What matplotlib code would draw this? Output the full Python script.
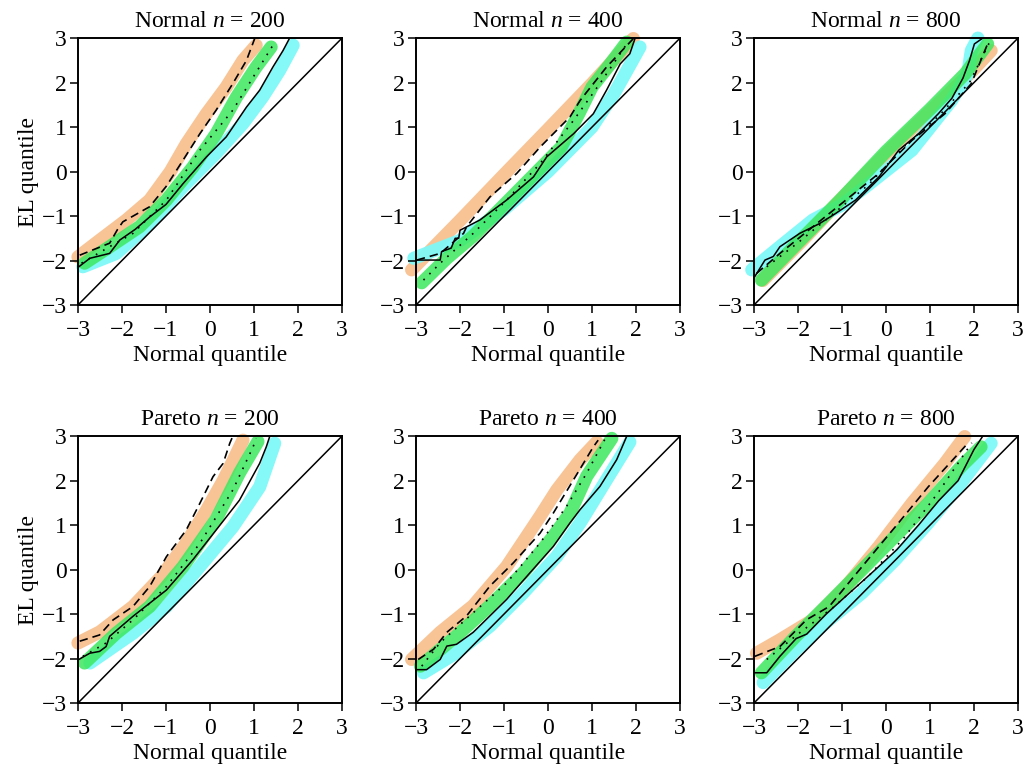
import matplotlib.pyplot as plt
import numpy as np

plt.rcParams['font.family'] = ['Liberation Serif', 'DejaVu Serif']
plt.rcParams['mathtext.fontset'] = 'custom'
plt.rcParams['mathtext.rm'] = 'Liberation Serif'
plt.rcParams['mathtext.it'] = 'Liberation Serif:italic'

titles = ['Normal $n$ = 200', 'Normal $n$ = 400', 'Normal $n$ = 800',
          'Pareto $n$ = 200', 'Pareto $n$ = 400', 'Pareto $n$ = 800']
ticks = [-3, -2, -1, 0, 1, 2, 3]

# (normal quantile, EL quantile) points
# --- Normal n = 200
nrm200_orange = [(-3.0, -1.92), (-2.5, -1.54), (-1.9, -1.09), (-1.37, -0.64), (-0.9, 0.0),
                 (-0.54, 0.62), (-0.08, 1.3), (0.37, 1.9), (0.75, 2.5), (1.05, 2.84)]
nrm200_green = [(-2.85, -2.06), (-2.28, -1.69), (-1.6, -1.24), (-0.99, -0.64), (-0.39, 0.1),
                (0.14, 0.85), (0.6, 1.67), (1.05, 2.35), (1.39, 2.8)]
nrm200_cyan = [(-2.89, -2.14), (-2.13, -1.84), (-1.37, -1.17), (-0.61, -0.34), (0.14, 0.41),
               (0.75, 1.08), (1.2, 1.68), (1.58, 2.27), (1.89, 2.84)]
nrm200_dash = [(-2.96, -1.88), (-2.28, -1.61), (-2.1, -1.3), (-1.98, -1.13), (-1.37, -0.79),
               (-1.0, -0.34), (-0.61, 0.26), (-0.23, 0.85), (0.14, 1.38), (0.52, 1.98),
               (0.83, 2.5), (1.02, 3.0)]
nrm200_dot = [(-2.92, -2.06), (-2.3, -1.7), (-1.75, -1.39), (-0.99, -0.64), (-0.23, 0.48),
              (0.52, 1.38), (0.98, 2.12), (1.43, 2.84)]
nrm200_solid = [(-2.98, -2.14), (-2.73, -1.95), (-2.28, -1.84), (-2.05, -1.54), (-1.7, -1.3),
                (-1.37, -1.02), (-1.0, -0.74), (-0.61, -0.27), (-0.08, 0.33), (0.37, 0.78),
                (0.83, 1.45), (1.13, 1.83), (1.43, 2.35), (1.66, 2.72), (1.81, 3.0)]
# --- Normal n = 400
nrm400_orange = [(-3.1, -2.21), (-2.0, -1.1), (-1.0, -0.07), (0.0, 0.95), (1.0, 1.98), (1.94, 2.99)]
nrm400_green = [(-2.87, -2.5), (-2.3, -1.95), (-1.7, -1.45), (-1.0, -0.75), (-0.3, -0.05),
                (0.3, 0.55), (0.7, 1.3), (1.0, 1.9), (1.4, 2.4), (1.79, 2.91)]
nrm400_cyan = [(-3.05, -1.95), (-2.0, -1.55), (-1.0, -0.85), (0.0, 0.0), (1.0, 1.0),
               (1.5, 1.75), (2.09, 2.8)]
nrm400_dash = [(-2.98, -1.99), (-2.45, -1.84), (-1.92, -1.39), (-1.85, -1.24), (-1.32, -0.57),
               (-0.71, -0.04), (-0.18, 0.55), (0.5, 1.23), (0.73, 1.6), (1.33, 2.35), (1.94, 2.99)]
nrm400_dot = [(-2.83, -2.44), (-2.45, -2.06), (-1.7, -1.39), (-0.94, -0.64), (-0.18, 0.18),
              (0.58, 1.15), (1.18, 1.98), (1.79, 2.87)]
nrm400_solid = [(-2.98, -1.99), (-2.45, -1.99), (-2.42, -1.8), (-2.2, -1.72), (-2.11, -1.5),
                (-2.03, -1.5), (-2.0, -1.32), (-1.55, -1.09), (-0.94, -0.64), (-0.33, -0.12),
                (-0.03, 0.33), (0.58, 0.85), (1.03, 1.3), (1.33, 1.83), (1.64, 2.42),
                (1.86, 2.65), (1.98, 3.0)]
# --- Normal n = 800
nrm800_orange = [(-2.8, -2.45), (-1.9, -1.55), (-1.0, -0.6), (0.0, 0.4), (1.0, 1.35),
                 (1.9, 2.2), (2.39, 2.72)]
nrm800_green = [(-2.83, -2.44), (-2.0, -1.6), (-1.0, -0.6), (0.0, 0.45), (1.0, 1.4),
                (1.8, 2.2), (2.31, 2.87)]
nrm800_cyan = [(-3.05, -2.21), (-2.41, -1.69), (-1.66, -1.09), (-1.0, -0.75), (-0.46, -0.34),
               (0.59, 0.48), (1.49, 1.6), (1.86, 2.2), (1.94, 2.72), (2.09, 3.0)]
nrm800_dash = [(-2.94, -2.29), (-2.41, -1.84), (-1.66, -1.24), (-0.91, -0.64), (-0.16, -0.04),
               (0.59, 0.7), (1.34, 1.3), (1.94, 1.98), (2.31, 2.87)]
nrm800_dot = [(-2.71, -2.14), (-2.0, -1.6), (-1.2, -0.95), (-0.4, -0.3), (0.4, 0.55),
              (1.2, 1.25), (1.9, 2.0), (2.35, 2.9)]
nrm800_solid = [(-2.98, -2.36), (-2.75, -1.99), (-2.56, -1.91), (-2.41, -1.69), (-1.96, -1.39),
                (-1.51, -1.17), (-1.14, -0.94), (-0.69, -0.64), (-0.16, -0.12), (0.29, 0.48),
                (0.74, 0.85), (1.19, 1.3), (1.5, 1.65), (1.75, 2.1), (1.9, 2.5), (2.01, 2.87),
                (2.2, 3.0)]
# --- Pareto n = 200
par200_orange = [(-3.0, -1.65), (-2.5, -1.4), (-1.75, -0.83), (-1.1, -0.15), (-0.54, 0.6),
                 (-0.1, 1.3), (0.3, 2.0), (0.55, 2.5), (0.75, 2.91)]
par200_green = [(-2.85, -2.1), (-2.13, -1.43), (-1.37, -0.83), (-0.61, 0.07), (0.14, 1.13),
                (0.67, 2.17), (1.09, 2.88)]
par200_cyan = [(-2.73, -2.1), (-1.75, -1.43), (-0.99, -0.83), (-0.23, 0.07), (0.52, 0.96),
               (1.13, 1.86), (1.47, 2.84)]
par200_dash = [(-2.96, -1.61), (-2.51, -1.47), (-2.2, -1.13), (-1.75, -0.83), (-1.37, -0.38),
               (-0.99, 0.29), (-0.54, 0.89), (-0.23, 1.49), (0.07, 2.09), (0.3, 2.39),
               (0.45, 2.84), (0.52, 3.0)]
par200_dot = [(-2.89, -1.95), (-2.36, -1.65), (-1.75, -1.13), (-0.99, -0.38), (-0.23, 0.59),
              (0.52, 1.79), (0.98, 2.76), (1.05, 2.95)]
par200_solid = [(-2.98, -2.02), (-2.73, -1.88), (-2.51, -1.84), (-2.36, -1.73), (-2.28, -1.5),
                (-1.75, -1.05), (-0.99, -0.46), (-0.39, 0.22), (0.14, 0.89), (0.67, 1.56),
                (1.13, 2.39), (1.28, 2.76), (1.36, 3.0)]
# --- Pareto n = 400
par400_orange = [(-3.1, -2.02), (-2.45, -1.41), (-1.7, -0.81), (-0.94, 0.07), (-0.18, 1.2),
                 (0.2, 1.79), (0.73, 2.47), (1.11, 2.87)]
par400_green = [(-2.9, -2.17), (-2.08, -1.49), (-1.32, -0.81), (-0.56, -0.07), (0.12, 0.75),
                (0.5, 1.27), (0.88, 2.1), (1.45, 2.95)]
par400_cyan = [(-2.83, -2.32), (-2.08, -1.87), (-1.32, -1.27), (-0.56, -0.52), (0.2, 0.3),
               (0.73, 1.05), (1.33, 2.02), (1.86, 2.87)]
par400_dash = [(-2.95, -2.02), (-2.6, -1.79), (-2.3, -1.41), (-1.85, -1.04), (-1.32, -0.37),
               (-0.79, 0.15), (-0.18, 0.82), (0.12, 1.27), (0.58, 2.02), (1.03, 2.76), (1.14, 2.91)]
par400_dot = [(-2.87, -2.17), (-2.45, -1.64), (-1.7, -0.97), (-0.94, -0.3), (-0.18, 0.6),
              (0.42, 1.42), (0.88, 2.17), (1.33, 3.0)]
par400_solid = [(-2.98, -2.25), (-2.76, -2.25), (-2.45, -2.02), (-2.3, -1.72), (-2.08, -1.68),
                (-1.7, -1.41), (-1.32, -1.04), (-0.94, -0.67), (-0.48, -0.15), (0.12, 0.52),
                (0.5, 1.05), (0.73, 1.35), (1.18, 1.87), (1.56, 2.47), (1.79, 3.0)]
# --- Pareto n = 800
par800_orange = [(-2.94, -1.88), (-2.41, -1.58), (-1.66, -1.13), (-0.91, -0.38), (-0.16, 0.52),
                 (0.59, 1.49), (1.34, 2.39), (1.79, 2.99)]
par800_green = [(-2.83, -2.32), (-2.04, -1.49), (-1.29, -0.75), (-0.54, 0.0), (0.21, 0.75),
                (0.96, 1.49), (1.71, 2.32), (2.16, 2.76)]
par800_cyan = [(-2.79, -2.54), (-2.04, -1.79), (-1.29, -1.13), (-0.54, -0.52), (0.21, 0.22),
               (0.96, 1.05), (1.71, 1.95), (2.39, 2.84)]
par800_dash = [(-2.98, -1.95), (-2.41, -1.73), (-1.81, -1.13), (-1.29, -0.83), (-0.54, 0.07),
               (0.21, 0.96), (0.96, 1.86), (1.86, 2.84)]
par800_dot = [(-2.71, -2.02), (-2.0, -1.45), (-1.2, -0.85), (-0.4, -0.15), (0.4, 0.7),
              (1.2, 1.75), (1.95, 2.85)]
par800_solid = [(-2.98, -2.32), (-2.71, -2.32), (-2.41, -1.95), (-2.04, -1.55), (-1.8, -1.45),
                (-1.36, -1.0), (-0.8, -0.5), (-0.24, 0.0), (0.25, 0.45), (0.74, 1.0),
                (1.2, 1.55), (1.64, 2.0), (2.0, 2.7), (2.2, 3.0)]

panels = [
    (nrm200_orange, nrm200_green, nrm200_cyan, nrm200_dash, nrm200_dot, nrm200_solid),
    (nrm400_orange, nrm400_green, nrm400_cyan, nrm400_dash, nrm400_dot, nrm400_solid),
    (nrm800_orange, nrm800_green, nrm800_cyan, nrm800_dash, nrm800_dot, nrm800_solid),
    (par200_orange, par200_green, par200_cyan, par200_dash, par200_dot, par200_solid),
    (par400_orange, par400_green, par400_cyan, par400_dash, par400_dot, par400_solid),
    (par800_orange, par800_green, par800_cyan, par800_dash, par800_dot, par800_solid),
]

fig = plt.figure(figsize=(10.30, 7.69), dpi=100)
lefts = [0.0757, 0.4039, 0.732]
bottoms = [0.6034, 0.0858]
w, h = 0.2563, 0.347
fs = 17

for i, (orange, green, cyan, dash, dot, solid) in enumerate(panels):
    ax = fig.add_axes([lefts[i % 3], bottoms[i // 3], w, h])
    band_kw = dict(lw=9.5, solid_capstyle='round', solid_joinstyle='round', clip_on=False)
    for pts, col, a in [(orange, '#f8c496', 1.0), (cyan, '#7ff8f8', 0.95), (green, '#3de85e', 0.85)]:
        p = np.array(pts)
        ax.plot(p[:, 0], p[:, 1], color=col, alpha=a, zorder=1, **band_kw)
    ax.plot(ticks, ticks, color='black', lw=1.1, zorder=2)
    p = np.array(dash)
    ax.plot(p[:, 0], p[:, 1], color='black', lw=1.2, ls=(0, (5, 3)), zorder=3)
    p = np.array(dot)
    ax.plot(p[:, 0], p[:, 1], color='black', lw=1.2, ls=(0, (1, 4)), zorder=3)
    p = np.array(solid)
    ax.plot(p[:, 0], p[:, 1], color='black', lw=1.1, zorder=3)

    ax.set_xlim(-3, 3)
    ax.set_ylim(-3, 3)
    ax.set_xticks(ticks)
    ax.set_yticks(ticks)
    ax.tick_params(direction='out', length=6, width=1.1, labelsize=fs)
    ax.tick_params(axis='x', pad=5)
    ax.tick_params(axis='y', pad=2)
    for s in ax.spines.values():
        s.set_linewidth(1.4)
    ax.set_title(titles[i], fontsize=fs, pad=8)
    ax.set_xlabel('Normal quantile', fontsize=fs, labelpad=3)
    if i % 3 == 0:
        ax.set_ylabel('EL quantile', fontsize=fs, labelpad=2)

fig.savefig('out.png', dpi=100)
